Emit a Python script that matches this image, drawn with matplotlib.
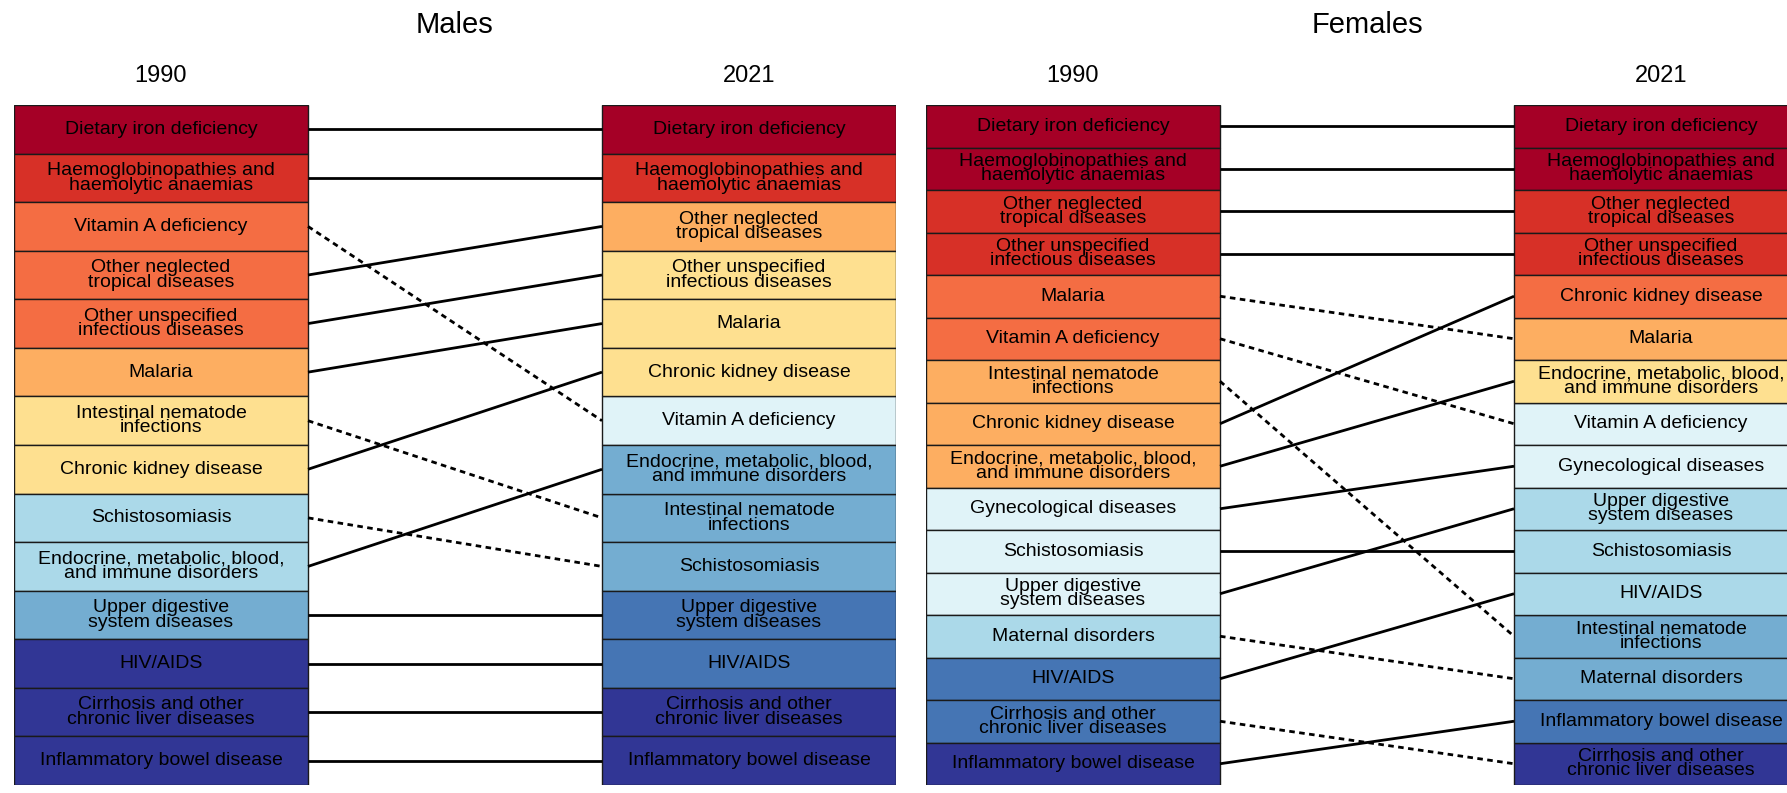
import matplotlib
matplotlib.use('Agg')
import matplotlib.pyplot as plt

# RdYlBu 11-class palette, colour class per box is an index into it
palette = ['#A50026', '#D73027', '#F46D43', '#FDAE61', '#FEE090', '#FFFFBF',
           '#E0F3F8', '#ABD9E9', '#74ADD1', '#4575B4', '#313695']

# Males: causes in 1990 rank order, colour class, and their 2021 rank
male_causes = ['Dietary iron deficiency',
               'Haemoglobinopathies and\nhaemolytic anaemias',
               'Vitamin A deficiency',
               'Other neglected\ntropical diseases',
               'Other unspecified\ninfectious diseases',
               'Malaria',
               'Intestinal nematode\ninfections',
               'Chronic kidney disease',
               'Schistosomiasis',
               'Endocrine, metabolic, blood,\nand immune disorders',
               'Upper digestive\nsystem diseases',
               'HIV/AIDS',
               'Cirrhosis and other\nchronic liver diseases',
               'Inflammatory bowel disease']
male_class_1990 = [0, 1, 2, 2, 2, 3, 4, 4, 7, 7, 8, 10, 10, 10]
male_rank_2021 = [1, 2, 7, 3, 4, 5, 9, 6, 10, 8, 11, 12, 13, 14]
male_class_2021 = [0, 1, 6, 3, 4, 4, 8, 4, 8, 8, 9, 9, 10, 10]

# Females
female_causes = ['Dietary iron deficiency',
                 'Haemoglobinopathies and\nhaemolytic anaemias',
                 'Other neglected\ntropical diseases',
                 'Other unspecified\ninfectious diseases',
                 'Malaria',
                 'Vitamin A deficiency',
                 'Intestinal nematode\ninfections',
                 'Chronic kidney disease',
                 'Endocrine, metabolic, blood,\nand immune disorders',
                 'Gynecological diseases',
                 'Schistosomiasis',
                 'Upper digestive\nsystem diseases',
                 'Maternal disorders',
                 'HIV/AIDS',
                 'Cirrhosis and other\nchronic liver diseases',
                 'Inflammatory bowel disease']
female_class_1990 = [0, 0, 1, 1, 2, 2, 3, 3, 3, 6, 6, 6, 7, 9, 9, 10]
female_rank_2021 = [1, 2, 3, 4, 6, 8, 13, 5, 7, 9, 11, 10, 14, 12, 16, 15]
female_class_2021 = [0, 0, 1, 1, 3, 6, 8, 2, 4, 6, 7, 7, 8, 7, 10, 9]

plt.rcParams['font.family'] = ['Liberation Sans', 'DejaVu Sans']

W, H = 1787, 793
fig = plt.figure(figsize=(W / 100, H / 100), dpi=100)


def panel(left_px, title, causes, cls90, rank21, cls21):
    n = len(causes)
    ax = fig.add_axes([left_px / W, 8 / H, 882 / W, 680 / H])
    ax.set_xlim(0, 3)
    ax.set_ylim(n + 0.5, 0.5)
    ax.axis('off')
    rank90 = list(range(1, n + 1))
    ax.barh(rank90, 1, left=0, height=1, color=[palette[c] for c in cls90],
            edgecolor='#1a1a1a', linewidth=1.0)
    ax.barh(rank21, 1, left=2, height=1, color=[palette[c] for c in cls21],
            edgecolor='#1a1a1a', linewidth=1.0)
    for r0, r1, name in zip(rank90, rank21, causes):
        ax.text(0.5, r0, name, ha='center', va='center', fontsize=14,
                linespacing=0.8)
        ax.text(2.5, r1, name, ha='center', va='center', fontsize=14,
                linespacing=0.8)
        # solid when the cause keeps or gains rank, dotted when it drops
        ls = '-' if r1 <= r0 else (0, (2, 1.6))
        ax.plot([1, 2], [r0, r1], color='black', lw=2.0, linestyle=ls,
                solid_capstyle='butt')
    ax.text(0.5, 1.117, title, transform=ax.transAxes, ha='center',
            va='center', fontsize=21)
    ax.text(0.5 / 3, 1.043, '1990', transform=ax.transAxes, ha='center',
            va='center', fontsize=17)
    ax.text(2.5 / 3, 1.043, '2021', transform=ax.transAxes, ha='center',
            va='center', fontsize=17)
    return ax


panel(14, 'Males', male_causes, male_class_1990, male_rank_2021, male_class_2021)
panel(926, 'Females', female_causes, female_class_1990, female_rank_2021,
      female_class_2021)

fig.savefig('out.png', dpi=100)
